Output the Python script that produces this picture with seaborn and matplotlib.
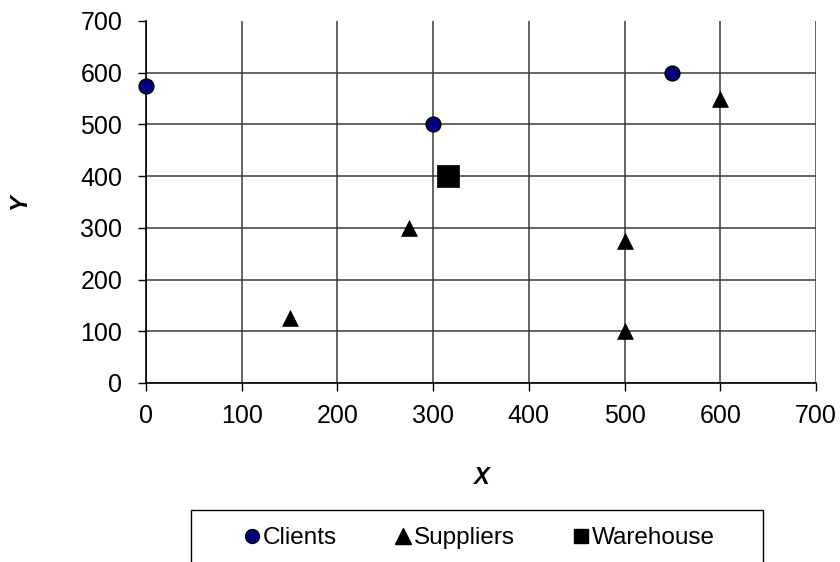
import matplotlib
matplotlib.use("Agg")
import matplotlib.pyplot as plt
import seaborn as sns
import pandas as pd
from matplotlib.lines import Line2D
from matplotlib.patches import Rectangle

# Location data (coordinates in the X/Y plane)
client_x = [0, 300, 550]
client_y = [575, 500, 600]
supplier_x = [150, 275, 500, 500, 600]
supplier_y = [125, 300, 275, 100, 550]
warehouse_x = [315]
warehouse_y = [400]
ticks = [0, 100, 200, 300, 400, 500, 600, 700]
series_names = ["Clients", "Suppliers", "Warehouse"]

sns.set_theme(style="white")
plt.rcParams["font.family"] = ["Liberation Sans", "DejaVu Sans"]
plt.rcParams["text.color"] = "black"
plt.rcParams["xtick.color"] = "black"
plt.rcParams["ytick.color"] = "black"
plt.rcParams["axes.labelcolor"] = "black"

clients = pd.DataFrame({"X": client_x, "Y": client_y})
suppliers = pd.DataFrame({"X": supplier_x, "Y": supplier_y})
warehouse = pd.DataFrame({"X": warehouse_x, "Y": warehouse_y})

W, H = 840, 562
fig = plt.figure(figsize=(W / 100, H / 100), dpi=100)
ax = fig.add_axes([146 / W, 1 - 383 / H, 670 / W, 362 / H])

sns.scatterplot(data=clients, x="X", y="Y", ax=ax, marker="o", s=110,
                color="#000080", edgecolor="black", linewidth=1.2, zorder=3, clip_on=False)
sns.scatterplot(data=suppliers, x="X", y="Y", ax=ax, marker="^", s=130,
                color="black", edgecolor="black", linewidth=0.5, zorder=3, clip_on=False)
sns.scatterplot(data=warehouse, x="X", y="Y", ax=ax, marker="s", s=250,
                color="black", edgecolor="black", linewidth=0.5, zorder=3, clip_on=False)

ax.set_xlim(0, 700)
ax.set_ylim(0, 700)
ax.set_xticks(ticks)
ax.set_yticks(ticks)
ax.tick_params(axis="both", labelsize=18, direction="out", length=6, width=1,
               color="black", bottom=True, left=True)
ax.tick_params(axis="x", pad=9)
ax.tick_params(axis="y", pad=11)
ax.grid(True, color="#3a3a3a", linewidth=1.1)
ax.set_axisbelow(True)
ax.yaxis.get_gridlines()[-1].set_visible(False)

for side in ["top", "right"]:
    ax.spines[side].set_visible(False)
for side in ["left", "bottom"]:
    ax.spines[side].set_color("black")
    ax.spines[side].set_linewidth(1.2)

ax.set_xlabel("X", fontsize=17, fontweight="bold", fontstyle="italic")
ax.set_ylabel("Y", fontsize=17, fontweight="bold", fontstyle="italic")
ax.xaxis.set_label_coords(0.5, (383 - 466) / 362)
ax.yaxis.set_label_coords((31 - 146) / 670, 0.5)

# Legend frame runs off the bottom edge of the figure
fig.patches.append(Rectangle((191 / W, 1 - 575 / H), 572 / W, 65 / H,
                             transform=fig.transFigure, fill=False,
                             edgecolor="black", linewidth=1.0))

handles = [
    Line2D([], [], linestyle="none", marker="o", markersize=10,
           markerfacecolor="#000080", markeredgecolor="black", markeredgewidth=1),
    Line2D([], [], linestyle="none", marker="^", markersize=11,
           markerfacecolor="black", markeredgecolor="black"),
    Line2D([], [], linestyle="none", marker="s", markersize=10,
           markerfacecolor="black", markeredgecolor="black"),
]
leg = fig.legend(handles, series_names, ncol=3,
                 loc="center left", bbox_to_anchor=(245 / W, 1 - 538 / H),
                 frameon=False, fontsize=17.5, borderpad=0, borderaxespad=0,
                 handletextpad=0.15, columnspacing=2.4, handlelength=0.6)

fig.savefig("out.png", dpi=100)
